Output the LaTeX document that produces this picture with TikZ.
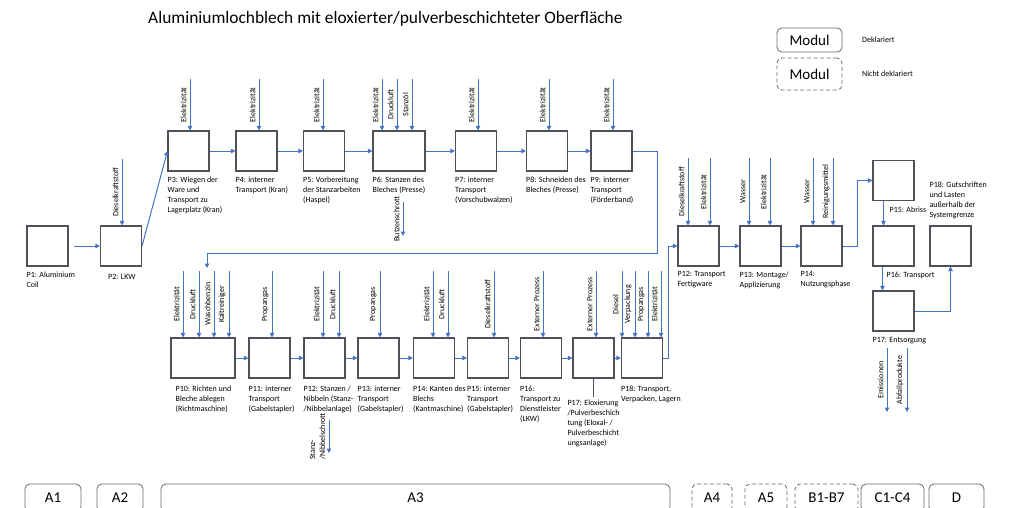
\documentclass[tikz,border=0pt]{standalone}
\usepackage{fontspec}
\setmainfont{Carlito}
\usepackage{tikz}
\usetikzlibrary{arrows.meta,positioning}
\definecolor{flowblue}{RGB}{68,114,196}
\definecolor{boxgray}{RGB}{80,80,88}
\definecolor{modgray}{RGB}{105,105,105}
\tikzset{
  proc/.style={
    draw=boxgray,
    line width=1.1pt,
    minimum width=41pt,
    minimum height=40pt,
    inner sep=0pt
  },
  wide proc/.style={
    proc,
    minimum width=52pt
  },
  lbl/.style={
    anchor=north west,
    align=left,
    inner sep=0pt,
    font=\fontsize{8}{10}\selectfont
  },
  inlbl/.style={
    rotate=90,
    anchor=south,
    align=left,
    text=black,
    inner xsep=0pt,
    inner ysep=3pt,
    font=\fontsize{8}{10}\selectfont
  },
  flow/.style={
    ->,
    color=flowblue,
    line width=1pt
  },
  note/.style={
    anchor=west,
    inner sep=0pt,
    font=\fontsize{8}{10}\selectfont
  },
  modul/.style={
    draw=modgray,
    rounded corners=5pt,
    line width=0.8pt,
    inner sep=0pt,
    minimum height=28pt,
    font=\fontsize{15}{15}\selectfont
  },
  modul nd/.style={
    modul,
    dash pattern=on 4pt off 2.5pt
  }
}

\begin{document}
\begin{tikzpicture}[%
            x=1pt, y=1pt,
            >={Triangle[length=4.5pt,width=4.5pt]},
            on grid,
            node distance=68pt]
    \useasboundingbox (0,0) rectangle (1011,-508);
    \node[anchor=west, inner sep=0pt, font=\fontsize{17.4}{17.4}\selectfont] (title) at (148,-19) {Aluminiumlochblech mit eloxierter/pulverbeschichteter Oberfläche};

    % legend
    \node[modul, minimum width=65pt, minimum height=24pt] (legdekl) at (809.5,-40) {Modul};
    \node[modul nd, minimum width=65pt, minimum height=32pt] (legnicht) at (809.5,-74) {Modul};
    \node[note] (txtdekl) at (862,-40) {Deklariert};
    \node[note] (txtnicht) at (862,-74) {Nicht deklariert};

    % A1, A2
    \node[proc] (coil) at (47.5,-246) {};
    \node[proc] (lkw) [right=73.5pt of coil] {};
    % A3 upper row
    \node[proc] (wiegen) at (188.5,-151) {};
    \node[proc] (kran) [right=of wiegen] {};
    \node[proc] (haspel) [right=67.5pt of kran] {};
    \node[wide proc] (stanzen) [right=75pt of haspel] {};
    \node[proc] (vorschub) [right=77pt of stanzen] {};
    \node[proc] (schneiden) [right=71pt of vorschub] {};
    \node[proc] (foerder) [right=64.5pt of schneiden] {};
    % A3 lower row
    \node[proc, minimum width=64pt] (richten) at (203,-358) {};
    \node[proc] (stapler1) [right=66.5pt of richten] {};
    \node[proc] (nibbeln) [right=55pt of stapler1] {};
    \node[proc] (stapler2) [right=54pt of nibbeln] {};
    \node[proc] (kanten) [right=55.5pt of stapler2] {};
    \node[proc] (stapler3) [right=54pt of kanten] {};
    \node[proc] (dienst) [right=53pt of stapler3] {};
    \node[proc] (eloxal) [right=52.5pt of dienst] {};
    \node[proc] (lager) [right=48.5pt of eloxal] {};
    % A4 to D
    \node[proc] (fertig) at (698.5,-246) {};
    \node[proc] (montage) [right=62pt of fertig] {};
    \node[proc] (nutzung) [right=61pt of montage] {};
    \node[proc] (transport) [right=72pt of nutzung] {};
    \node[proc] (abriss) [above=65.5pt of transport] {};
    \node[proc] (entsorgung) [below=65pt of transport] {};
    \node[proc] (gutschrift) [right=57pt of transport] {};

    % box labels
    \node[lbl] (coiltx) at ([yshift=-5pt]coil.south west) {P1: Aluminium\\Coil};
    \node[lbl] (lkwtx) at ([xshift=8pt,yshift=-8pt]lkw.south west) {P2: LKW};
    \node[lbl] (wiegentx) at ([yshift=-5pt]wiegen.south west) {P3: Wiegen der\\Ware und\\Transport zu\\Lagerplatz (Kran)};
    \node[lbl] (krantx) at ([yshift=-5pt]kran.south west) {P4: interner\\Transport (Kran)};
    \node[lbl] (haspeltx) at ([yshift=-5pt]haspel.south west) {P5: Vorbereitung\\der Stanzarbeiten\\(Haspel)};
    \node[lbl] (stanzentx) at ([yshift=-5pt]stanzen.south west) {P6: Stanzen des\\Bleches (Presse)};
    \node[lbl] (vorschubtx) at ([yshift=-5pt]vorschub.south west) {P7: interner\\Transport\\(Vorschubwalzen)};
    \node[lbl] (schneidentx) at ([yshift=-5pt]schneiden.south west) {P8: Schneiden des\\Bleches (Presse)};
    \node[lbl] (foerdertx) at ([yshift=-5pt]foerder.south west) {P9: interner\\Transport\\(Förderband)};
    \node[lbl] (richtentx) at ([xshift=5pt,yshift=-7pt]richten.south west) {P10: Richten und\\Bleche ablegen\\(Richtmaschine)};
    \node[lbl] (stapler1tx) at ([yshift=-7pt]stapler1.south west) {P11: interner\\Transport\\(Gabelstapler)};
    \node[lbl] (nibbelntx) at ([yshift=-7pt]nibbeln.south west) {P12: Stanzen /\\Nibbeln (Stanz-\\/Nibbelanlage)};
    \node[lbl] (stapler2tx) at ([yshift=-7pt]stapler2.south west) {P13: interner\\Transport\\(Gabelstapler)};
    \node[lbl] (kantentx) at ([yshift=-7pt]kanten.south west) {P14: Kanten des\\Blechs\\(Kantmaschine)};
    \node[lbl] (stapler3tx) at ([yshift=-7pt]stapler3.south west) {P15: interner\\Transport\\(Gabelstapler)};
    \node[lbl] (diensttx) at ([yshift=-7pt]dienst.south west) {P16:\\Transport zu\\Dienstleister\\(LKW)};
    \node[lbl, anchor=north] (eloxaltx) at ([yshift=-21pt]eloxal.south) {P17: Eloxierung\\/Pulverbeschich\\tung (Eloxal- /\\Pulverbeschicht\\ungsanlage)};
    \node[lbl] (lagertx) at ([yshift=-7pt]lager.south west) {P18: Transport,\\Verpacken, Lagern};
    \node[lbl] (fertigtx) at ([yshift=-5pt]fertig.south west) {P12: Transport\\Fertigware};
    \node[lbl] (montagetx) at ([yshift=-5pt]montage.south west) {P13: Montage/\\Applizierung};
    \node[lbl] (nutzungtx) at ([yshift=-5pt]nutzung.south west) {P14:\\Nutzungsphase};
    \node[lbl] (abrisstx) at ([xshift=17pt,yshift=-6pt]abriss.south west) {P15: Abriss};
    \node[lbl] (transporttx) at ([xshift=14pt,yshift=-5pt]transport.south west) {P16: Transport};
    \node[lbl] (entsorgungtx) at ([yshift=-6pt]entsorgung.south west) {P17: Entsorgung};
    \node[lbl, anchor=south west] (gutschrifttx) at ([yshift=6pt]gutschrift.north west) {P18: Gutschriften\\und Lasten\\außerhalb der\\Systemgrenze};
    \draw[boxgray, line width=0.8pt, shorten >=3pt] (eloxal.south) -- (eloxaltx.north);

    % free ends of inputs and outputs
    \coordinate (lkwin) at (122,-159);
    \coordinate (wiegenin) at (190,-79);
    \coordinate (kranin) at (259,-79);
    \coordinate (haspelin) at (323,-79);
    \coordinate (stanzenin1) at (382,-79);
    \coordinate (stanzenin2) at (397,-79);
    \coordinate (stanzenin3) at (412,-79);
    \coordinate (vorschubin) at (478,-79);
    \coordinate (schneidenin) at (549,-79);
    \coordinate (foerderin) at (613,-79);
    \coordinate (richtenin1) at (183,-271);
    \coordinate (richtenin2) at (199,-271);
    \coordinate (richtenin3) at (214,-271);
    \coordinate (richtenin4) at (229,-271);
    \coordinate (stapler1in) at (272,-271);
    \coordinate (nibbelnin1) at (323,-271);
    \coordinate (nibbelnin2) at (339,-271);
    \coordinate (stapler2in) at (380,-271);
    \coordinate (kantenin1) at (433,-271);
    \coordinate (kantenin2) at (448,-271);
    \coordinate (stapler3in) at (494,-271);
    \coordinate (dienstin) at (543,-271);
    \coordinate (eloxalin) at (596,-271);
    \coordinate (lagerin1) at (622,-271);
    \coordinate (lagerin2) at (635,-271);
    \coordinate (lagerin3) at (648,-271);
    \coordinate (lagerin4) at (661,-271);
    \coordinate (fertigin1) at (688,-158);
    \coordinate (fertigin2) at (710,-158);
    \coordinate (montagein1) at (749,-158);
    \coordinate (montagein2) at (770,-158);
    \coordinate (nutzungin1) at (813,-158);
    \coordinate (nutzungin2) at (833,-158);
    \coordinate (butzen1) at (403,-202);
    \coordinate (butzen2) at (403,-236);
    \coordinate (schrott1) at (329,-420);
    \coordinate (schrott2) at (329,-453);
    \coordinate (emis1) at (887,-348);
    \coordinate (emis2) at (887,-412);
    \coordinate (abfall1) at (907,-348);
    \coordinate (abfall2) at (907,-412);
    \coordinate (ret) at (207,-268);

    % inputs
    \path[flow]
    (lkwin) edge node[inlbl] (lkwl) {Dieselkraftstoff} (lkwin |- lkw.north)
    (wiegenin) edge node[inlbl] (wiegenl) {Elektrizität} (wiegenin |- wiegen.north)
    (kranin) edge node[inlbl] (kranl) {Elektrizität} (kranin |- kran.north)
    (haspelin) edge node[inlbl] (haspell) {Elektrizität} (haspelin |- haspel.north)
    (stanzenin1) edge node[inlbl] (stanzenl1) {Elektrizität} (stanzenin1 |- stanzen.north)
    (stanzenin2) edge node[inlbl] (stanzenl2) {Druckluft} (stanzenin2 |- stanzen.north)
    (stanzenin3) edge node[inlbl] (stanzenl3) {Stanzöl} (stanzenin3 |- stanzen.north)
    (vorschubin) edge node[inlbl] (vorschubl) {Elektrizität} (vorschubin |- vorschub.north)
    (schneidenin) edge node[inlbl] (schneidenl) {Elektrizität} (schneidenin |- schneiden.north)
    (foerderin) edge node[inlbl] (foerderl) {Elektrizität} (foerderin |- foerder.north)
    (richtenin1) edge node[inlbl] (richtenl1) {Elektrizität} (richtenin1 |- richten.north)
    (richtenin2) edge node[inlbl] (richtenl2) {Druckluft} (richtenin2 |- richten.north)
    (richtenin3) edge node[inlbl] (richtenl3) {Waschbenzin} (richtenin3 |- richten.north)
    (richtenin4) edge node[inlbl] (richtenl4) {Kaltreiniger} (richtenin4 |- richten.north)
    (stapler1in) edge node[inlbl] (stapler1l) {Propangas} (stapler1in |- stapler1.north)
    (nibbelnin1) edge node[inlbl] (nibbelnl1) {Elektrizität} (nibbelnin1 |- nibbeln.north)
    (nibbelnin2) edge node[inlbl] (nibbelnl2) {Druckluft} (nibbelnin2 |- nibbeln.north)
    (stapler2in) edge node[inlbl] (stapler2l) {Propangas} (stapler2in |- stapler2.north)
    (kantenin1) edge node[inlbl] (kantenl1) {Elektrizität} (kantenin1 |- kanten.north)
    (kantenin2) edge node[inlbl] (kantenl2) {Druckluft} (kantenin2 |- kanten.north)
    (stapler3in) edge node[inlbl] (stapler3l) {Dieselkraftstoff} (stapler3in |- stapler3.north)
    (dienstin) edge node[inlbl] (dienstl) {Externer Prozess} (dienstin |- dienst.north)
    (eloxalin) edge node[inlbl] (eloxall) {Externer Prozess} (eloxalin |- eloxal.north)
    (lagerin1) edge node[inlbl] (lagerl1) {Diesel} (lagerin1 |- lager.north)
    (lagerin2) edge node[inlbl] (lagerl2) {Verpackung} (lagerin2 |- lager.north)
    (lagerin3) edge node[inlbl] (lagerl3) {Propangas} (lagerin3 |- lager.north)
    (lagerin4) edge node[inlbl] (lagerl4) {Elektrizität} (lagerin4 |- lager.north)
    (fertigin1) edge node[inlbl] (fertigl1) {Dieselkraftstoff} (fertigin1 |- fertig.north)
    (fertigin2) edge node[inlbl] (fertigl2) {Elektrizität} (fertigin2 |- fertig.north)
    (montagein1) edge node[inlbl] (montagel1) {Wasser} (montagein1 |- montage.north)
    (montagein2) edge node[inlbl] (montagel2) {Elektrizität} (montagein2 |- montage.north)
    (nutzungin1) edge node[inlbl] (nutzungl1) {Wasser} (nutzungin1 |- nutzung.north)
    (nutzungin2) edge node[inlbl] (nutzungl2) {Reinigungsmittel} (nutzungin2 |- nutzung.north);

    % outputs
    \path[flow]
    (butzen1) edge node[inlbl] (butzenl) {Butzenschrott} (butzen2)
    (schrott1) edge node[inlbl] (schrottl) {Stanz-\\/Nibbelschrott} (schrott2)
    (emis1) edge node[inlbl] (emisl) {Emissionen} (emis2)
    (abfall1) edge node[inlbl] (abfalll) {Abfallprodukte} (abfall2);

    % process chain
    \path[flow]
    (coil) edge[shorten <=5pt] (lkw)
    (lkw.east) edge (wiegen.west)
    (wiegen) edge (kran)
    (kran) edge (haspel)
    (haspel) edge (stanzen)
    (stanzen) edge (vorschub)
    (vorschub) edge (schneiden)
    (schneiden) edge (foerder)
    (richten) edge (stapler1)
    (stapler1) edge (nibbeln)
    (nibbeln) edge (stapler2)
    (stapler2) edge (kanten)
    (kanten) edge (stapler3)
    (stapler3) edge (dienst)
    (dienst) edge (eloxal)
    (eloxal) edge (lager)
    (fertig) edge (montage)
    (montage) edge (nutzung)
    ([xshift=-10pt]abriss.south) edge ([xshift=-10pt]transport.north)
    ([xshift=-11pt]transport.south) edge ([xshift=-11pt]entsorgung.north);
    \draw[flow] (foerder.east) -- ++(25,0) |- ([yshift=15pt]ret) -- (ret);
    \draw[flow] (lager.east) -- ++(5,0) |- (fertig.west);
    \draw[flow] (nutzung.east) -- ++(15,0) |- (abriss.west);
    \draw[flow] (entsorgung.east) -| (gutschrift.south);

    % modules
    \node[modul, minimum width=56pt] (moda1) at (53,-498) {A1};
    \node[modul, minimum width=46pt] (moda2) at (120,-498) {A2};
    \node[modul, minimum width=509pt] (moda3) at (415.5,-498) {A3};
    \node[modul nd, minimum width=40pt] (moda4) at (712,-498) {A4};
    \node[modul nd, minimum width=42pt] (moda5) at (766,-498) {A5};
    \node[modul nd, minimum width=63pt] (modb) at (826.5,-498) {B1-B7};
    \node[modul, minimum width=63pt] (modc) at (892.5,-498) {C1-C4};
    \node[modul, minimum width=55pt] (modd) at (956.5,-498) {D};
\end{tikzpicture}
\end{document}
